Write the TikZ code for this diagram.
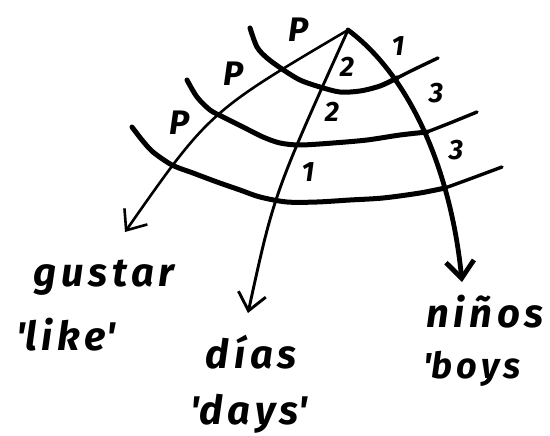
\documentclass[tikz,border=0pt]{standalone}
\usepackage{fontspec}
\newfontfamily\handfont[LetterSpace=12]{Fira Sans}
\newfontfamily\tagfont{Fira Sans}
\usetikzlibrary{arrows.meta}
\tikzset{
  word/.style={font=\handfont\bfseries\itshape\fontsize{40}{44}\selectfont, inner sep=0pt, anchor=base west},
  tag/.style={font=\tagfont\bfseries\itshape\fontsize{28}{30}\selectfont, inner sep=0pt},
  ptag/.style={tag, font=\tagfont\bfseries\itshape\fontsize{34}{36}\selectfont},
  rel/.style={line width=5pt, line cap=round, line join=round},
  reltail/.style={line width=3.4pt, line cap=round, line join=round},
  arr/.style={-{Straight Barb[length=17pt,width=28pt]}, line cap=round, line join=round},
}
\begin{document}
\begin{tikzpicture}[x=1pt,y=-1pt]
\useasboundingbox (0,0) rectangle (550,436);
% words
\node[word] (g) at (33,287) {gustar};
\node[word] (l) at (16,350) {\textquotesingle like\textquotesingle};
\node[word] (d) at (205,368) {días};
\node[word] (y) at (190,424) {\textquotesingle days\textquotesingle};
\node[word] (n) at (426,327) {niños};
\node[word,font=\handfont\bfseries\itshape\fontsize{36}{40}\selectfont] (b) at (423,378) {\textquotesingle boys};
% labels on the lines
\node[ptag] (p1) at (299,30) {P};
\node[ptag] (p2) at (234,74) {P};
\node[ptag] (p3) at (180,123) {P};
\node[tag] (a1) at (398,46) {1};
\node[tag] (a2) at (347,67) {2};
\node[tag] (a3) at (436,93) {3};
\node[tag] (b2) at (332,112) {2};
\node[tag] (b3) at (456,150) {3};
\node[tag] (b1) at (308,172) {1};
% apex and arrow ends
\coordinate (top) at (348,30);
\coordinate (tg) at (125,232);
\coordinate (td) at (248,313);
\coordinate (tn) at (462,282);
% levels
\draw[rel] plot[smooth] coordinates {(250,28) (257,47) (267,58) (282,69) (300,80) (320,87) (340,92) (360,91) (380,86) (397,78)};
\draw[reltail] plot[smooth] coordinates {(397,78) (417,68) (438,58)};
\draw[rel] plot[smooth] coordinates {(187,80) (197,97) (210,110) (223,117) (243,127) (263,137) (280,143) (300,145) (333,143) (367,140) (400,135) (427,132)};
\draw[reltail] plot[smooth] coordinates {(427,132) (450,123) (477,112)};
\draw[rel] plot[smooth] coordinates {(132,127) (142,140) (153,152) (172,165) (193,173) (217,182) (240,190) (260,197) (287,202) (317,202) (350,200) (383,198) (420,193) (445,188)};
\draw[reltail] plot[smooth] coordinates {(445,188) (467,180) (502,167)};
% arrows
\draw[arr,line width=2.6pt] (top) .. controls (209,112) .. (tg);
\draw[arr,line width=2.9pt] (top) .. controls (274,194) .. (td);
\draw[arr,line width=4.8pt] (top) .. controls (415,80) and (452,180) .. (tn);
\end{tikzpicture}
\end{document}
